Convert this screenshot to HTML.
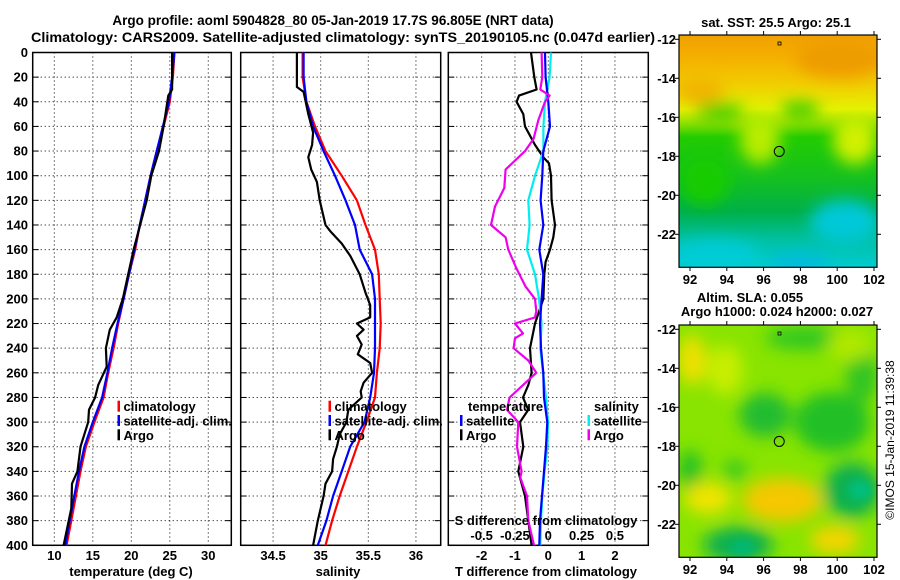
<!DOCTYPE html>
<html><head><meta charset="utf-8">
<style>
html,body{margin:0;padding:0;background:#fff;}
svg{display:block;font-family:"Liberation Sans",sans-serif;font-weight:bold;}
</style></head>
<body>
<svg id="chart" width="900" height="580" viewBox="0 0 900 580" xmlns="http://www.w3.org/2000/svg">
<defs>
  <clipPath id="clipTop"><rect x="679" y="35" width="198" height="232"/></clipPath>
  <clipPath id="clipBot"><rect x="679" y="325" width="198" height="232"/></clipPath>
  <filter id="blur8" x="-50%" y="-50%" width="200%" height="200%"><feGaussianBlur stdDeviation="8"/></filter>
  <filter id="blur5" x="-50%" y="-50%" width="200%" height="200%"><feGaussianBlur stdDeviation="5"/></filter>
  <linearGradient id="sstGrad" x1="0" y1="35" x2="0" y2="267" gradientUnits="userSpaceOnUse">
    <stop offset="0" stop-color="#f0a000"/>
    <stop offset="0.10" stop-color="#f5b000"/>
    <stop offset="0.22" stop-color="#f0d000"/>
    <stop offset="0.32" stop-color="#e4f200"/>
    <stop offset="0.38" stop-color="#90e000"/>
    <stop offset="0.44" stop-color="#22cc00"/>
    <stop offset="0.62" stop-color="#14c020"/>
    <stop offset="0.76" stop-color="#00b048"/>
    <stop offset="0.88" stop-color="#00c0a0"/>
    <stop offset="1" stop-color="#00ccd0"/>
  </linearGradient>
</defs>
<text x="333" y="25" font-size="13.5" text-anchor="middle">Argo profile: aoml 5904828_80 05-Jan-2019 17.7S 96.805E (NRT data)</text>
<text x="31" y="42" font-size="13.5" textLength="624" lengthAdjust="spacingAndGlyphs">Climatology: CARS2009. Satellite-adjusted climatology: synTS_20190105.nc (0.047d earlier)</text>
<g id="panels"></g>
<g id="maps"></g>
</svg>
<script>
// ---- depth grids ----
const depthClim = [0,20,40,60,80,100,120,140,160,180,200,220,240,260,280,300,320,340,360,380,400];
const depthTicks = [0,20,40,60,80,100,120,140,160,180,200,220,240,260,280,300,320,340,360,380,400];
// ---- temperature panel ----
const tempTicks = [10,15,20,25,30];
const tempClim = [25.6,25.4,25.0,24.2,23.3,22.5,21.8,21.1,20.5,19.7,19.0,18.3,17.7,17.0,16.4,15.2,14.1,13.4,12.8,12.2,11.6];
const tempSat = [25.6,25.3,24.9,24.1,23.3,22.5,21.8,21.1,20.4,19.7,19.0,18.2,17.5,16.9,16.2,15.0,13.9,13.2,12.6,12.0,11.45];
const argoTempDepth = [0,30,35,60,80,100,120,160,200,215,225,240,255,270,280,290,300,320,340,350,370,400];
const argoTemp = [25.3,25.3,24.8,24.2,23.6,22.6,22.0,20.3,18.9,18.1,17.2,16.7,16.8,15.7,15.3,14.5,14.4,13.4,13.0,12.3,12.2,11.2];
// ---- salinity panel ----
const salTicks = [34.5,35,35.5,36];
const salClim = [34.81,34.81,34.85,34.94,35.05,35.22,35.38,35.47,35.57,35.61,35.62,35.63,35.62,35.59,35.57,35.48,35.38,35.29,35.2,35.12,35.05];
const salSat = [34.82,34.82,34.85,34.92,35.03,35.15,35.26,35.36,35.41,35.54,35.57,35.57,35.57,35.56,35.52,35.46,35.31,35.22,35.13,35.06,34.97];
const argoSalDepth = [0,28,32,50,65,75,85,95,105,120,140,145,155,165,180,195,205,215,220,225,230,237,245,252,260,268,275,280,290,300,310,320,330,340,350,360,380,400];
const argoSal = [34.75,34.75,34.82,34.87,34.92,34.91,34.87,34.9,34.96,34.99,35.05,35.10,35.22,35.31,35.41,35.47,35.52,35.52,35.38,35.45,35.38,35.43,35.39,35.52,35.54,35.45,35.42,35.43,35.29,35.27,35.2,35.17,35.13,35.12,35.05,35.03,34.97,34.92];
// ---- difference panel ----
const tDiffTicks = [-2,-1,0,1,2];
const sDiffTicks = [-0.5,-0.25,0,0.25,0.5];
const sDiffTickLabels = ["-0.5","-0.25","0","0.25","0.5"];
const tDiffSat = [-0.1,-0.08,0,0.05,-0.15,-0.18,-0.23,-0.15,-0.27,-0.15,-0.2,-0.25,-0.22,-0.15,-0.13,-0.03,-0.07,-0.13,-0.19,-0.25,-0.27];
const sDiffSat = [0.02,0.01,-0.025,-0.037,-0.037,-0.1,-0.15,-0.14,-0.16,-0.1,-0.07,-0.05,-0.06,-0.04,-0.017,-0.002,-0.007,-0.028,-0.045,-0.055,-0.06];
const argoTDiffDepth = [0,20,30,35,40,50,60,75,85,90,100,120,140,150,160,170,180,200,220,240,260,270,280,290,300,320,340,360,380,400];
const argoTDiff = [-0.52,-0.42,-0.35,-0.88,-0.95,-0.75,-0.7,-0.4,-0.15,0.02,0.08,0.1,0.2,0.15,0.05,-0.08,-0.12,-0.15,-0.4,-0.55,-0.5,-0.6,-0.76,-0.6,-0.85,-0.75,-0.9,-0.7,-0.6,-0.5];
const argoSDiffDepth = [0,20,30,35,40,55,70,80,95,110,125,140,150,160,175,190,200,210,215,220,228,232,240,250,260,270,280,290,300,320,340,345,360,380,400];
const argoSDiff = [-0.05,-0.045,-0.06,0.01,-0.025,-0.075,-0.11,-0.175,-0.32,-0.33,-0.4,-0.43,-0.32,-0.3,-0.24,-0.17,-0.1,-0.09,-0.1,-0.25,-0.19,-0.25,-0.26,-0.15,-0.09,-0.19,-0.29,-0.31,-0.225,-0.235,-0.2,-0.21,-0.16,-0.15,-0.107];
// ---- maps ----
const lonTicks = [92,94,96,98,100,102];
const latTicks = [-12,-14,-16,-18,-20,-22];
const argoLon = 96.85, argoLat = -17.75;

const NS = "http://www.w3.org/2000/svg";
const panels = document.getElementById('panels');
const mapsG = document.getElementById('maps');
function mk(tag, attrs, parent){ const e=document.createElementNS(NS,tag); for(const k in attrs) e.setAttribute(k,attrs[k]); parent.appendChild(e); return e; }

const yTop=52.5, yBot=545.3;
function yDepth(d){ return yTop + d*(yBot-yTop)/400; }

function makePanel(name, x0, x1, vmin, vmax){
  const g = mk('g',{},panels);
  
  
  const sx = v => x0 + (v-vmin)*(x1-x0)/(vmax-vmin);
  return {g, sx, x0, x1};
}
function frame(P, ticks){
  depthTicks.forEach(d=>{
    const y=yDepth(d);
    if(d>0 && d<400){
      const l=mk('line',{x1:P.x0,x2:P.x1,y1:y,y2:y,stroke:'#000','stroke-width':1,'stroke-dasharray':'1,3'},P.g);
      
      
    }
    mk('line',{x1:P.x0,x2:P.x0+6,y1:y,y2:y,stroke:'#000','stroke-width':1},P.g);
    mk('line',{x1:P.x1-6,x2:P.x1,y1:y,y2:y,stroke:'#000','stroke-width':1},P.g);
  });
  ticks.forEach(v=>{
    const x=P.sx(v);
    const l=mk('line',{x1:x,x2:x,y1:yTop,y2:yBot,stroke:'#000','stroke-width':1,'stroke-dasharray':'1,3'},P.g);
    
    
  });
  const r=mk('rect',{x:P.x0,y:yTop,width:P.x1-P.x0,height:yBot-yTop,fill:'none',stroke:'#000','stroke-width':1.5},P.g);
  
  
}
function tickLabels(P, ticks, labels, y, name){
  ticks.forEach((v,i)=>{
    const t=mk('text',{x:P.sx(v),y:y,'font-size':13,'text-anchor':'middle'},P.g);
    t.textContent = labels ? labels[i] : String(v);
    
    
  });
}
function series(P, depths, vals, color, name, sx){
  const f = sx || P.sx;
  const pts = vals.map((v,i)=> f(v).toFixed(1)+','+yDepth(depths[i]).toFixed(1)).join(' ');
  const pl = mk('polyline',{points:pts,fill:'none',stroke:color,'stroke-width':2.2,'stroke-linejoin':'round'},P.g);
  
  
}
function legendEntry(P, x, y, color, label, name){
  const g=mk('g',{},P.g);
  
  
  mk('rect',{x:x,y:y-6,width:2.5,height:11,fill:color},g);
  const t=mk('text',{x:x+6,y:y+4.5,'font-size':13},g);
  t.textContent=label;
}
function label(parent, x, y, txt, name, anchor, size){
  const t=mk('text',{x:x,y:y,'font-size':size||13,'text-anchor':anchor||'middle'},parent);
  t.textContent=txt;
  
  
  return t;
}

depthTicks.forEach(d=>{
  label(panels, 28, yDepth(d)+4.5, String(d), 'depth-tick-label', 'end');
});

// Panel 1
const P1 = makePanel('temperature-panel', 32.7, 231.3, 7.19, 32.99);
frame(P1, tempTicks);
series(P1, depthClim, tempClim, '#ff0000', 'temperature-climatology-line');
series(P1, depthClim, tempSat, '#0000ff', 'temperature-satellite-line');
series(P1, argoTempDepth, argoTemp, '#000000', 'temperature-argo-line');
tickLabels(P1, tempTicks, null, 560, 'temperature-tick-label');
label(P1.g, 131, 576, 'temperature (deg C)', 'temperature-axis-title');
legendEntry(P1, 117.5, 406.7, '#ff0000', 'climatology', 'legend-climatology');
legendEntry(P1, 117.5, 421, '#0000ff', 'satellite-adj. clim.', 'legend-satellite-adj');
legendEntry(P1, 117.5, 435.3, '#000000', 'Argo', 'legend-argo');

// Panel 2
const P2 = makePanel('salinity-panel', 240.7, 440.7, 34.16, 36.26);
frame(P2, salTicks);
series(P2, depthClim, salClim, '#ff0000', 'salinity-climatology-line');
series(P2, depthClim, salSat, '#0000ff', 'salinity-satellite-line');
series(P2, argoSalDepth, argoSal, '#000000', 'salinity-argo-line');
tickLabels(P2, salTicks, null, 560, 'salinity-tick-label');
label(P2.g, 338, 576, 'salinity', 'salinity-axis-title');
legendEntry(P2, 328.5, 406.7, '#ff0000', 'climatology', 'legend-climatology');
legendEntry(P2, 328.5, 421, '#0000ff', 'satellite-adj. clim.', 'legend-satellite-adj');
legendEntry(P2, 328.5, 435.3, '#000000', 'Argo', 'legend-argo');

// Panel 3
const P3 = makePanel('difference-panel', 448.3, 648.3, -3, 3);
const sxS = v => P3.sx(v*4);
frame(P3, tDiffTicks);
series(P3, argoTDiffDepth, argoTDiff, '#000000', 'temperature-argo-diff-line');
series(P3, depthClim, sDiffSat, '#00eeee', 'salinity-satellite-diff-line', sxS);
series(P3, depthClim, tDiffSat, '#0000ff', 'temperature-satellite-diff-line');
series(P3, argoSDiffDepth, argoSDiff, '#ee00ee', 'salinity-argo-diff-line', sxS);
tickLabels(P3, tDiffTicks, null, 560, 'tdiff-tick-label');
label(P3.g, 546, 576, 'T difference from climatology', 'tdiff-axis-title');
sDiffTicks.forEach((v,i)=>{
  label(P3.g, sxS(v), 540, sDiffTickLabels[i], 'sdiff-tick-label');
});
label(P3.g, 546, 525, 'S difference from climatology', 'sdiff-axis-title');
label(P3.g, 468, 411, 'temperature', 'legend-temperature-heading', 'start');
label(P3.g, 594, 411, 'salinity', 'legend-salinity-heading', 'start');
legendEntry(P3, 460, 421, '#0000ff', 'satellite', 'legend-temp-satellite');
legendEntry(P3, 460, 435.3, '#000000', 'Argo', 'legend-temp-argo');
legendEntry(P3, 587.5, 421, '#00eeee', 'satellite', 'legend-sal-satellite');
legendEntry(P3, 587.5, 435.3, '#ee00ee', 'Argo', 'legend-sal-argo');

// ---- Maps ----
const mx = lon => 690 + (lon-92)*18.4;
function makeMap(name, y0){
  const g=mk('g',{},mapsG);
  
  
  const my = lat => y0 + 4.3 + (-12-lat)*19.5;
  return {g, my, y0};
}
function mapFrame(M){
  mk('rect',{x:679,y:M.y0,width:198,height:232.3,fill:'none',stroke:'#000','stroke-width':1.2},M.g);
  latTicks.forEach(l=>{
    const y=M.my(l);
    mk('line',{x1:675,x2:679,y1:y,y2:y,stroke:'#000'},M.g);
    mk('line',{x1:877,x2:881,y1:y,y2:y,stroke:'#000'},M.g);
    label(M.g, 676, y+4.5, String(l), 'latitude-tick-label', 'end');
  });
  lonTicks.forEach(l=>{
    const x=mx(l);
    mk('line',{x1:x,x2:x,y1:M.y0-4,y2:M.y0,stroke:'#000'},M.g);
    mk('line',{x1:x,x2:x,y1:M.y0+232,y2:M.y0+236,stroke:'#000'},M.g);
    label(M.g, x, M.y0+249, String(l), 'longitude-tick-label');
  });
  const c=mk('circle',{cx:mx(argoLon),cy:M.my(argoLat),r:5,fill:'none',stroke:'#000','stroke-width':1},M.g);
  
  
  mk('rect',{x:778,y:M.y0+7,width:3,height:3,fill:'none',stroke:'#000','stroke-width':0.8},M.g);
}
// SST map
const M1 = makeMap('sst-map', 35);
const g1 = mk('g',{'clip-path':'url(#clipTop)'},M1.g);
mk('rect',{x:679,y:35,width:198,height:232,fill:'url(#sstGrad)'},g1);
const b1 = mk('g',{filter:'url(#blur8)'},g1);
mk('ellipse',{cx:840,cy:58,rx:45,ry:20,fill:'#ee9c00'},b1);
mk('ellipse',{cx:700,cy:90,rx:25,ry:14,fill:'#f2b400'},b1);
mk('ellipse',{cx:760,cy:138,rx:20,ry:26,fill:'#b8ec00'},b1);
mk('ellipse',{cx:855,cy:140,rx:22,ry:24,fill:'#d0f000'},b1);
mk('ellipse',{cx:720,cy:112,rx:25,ry:9,fill:'#40cc00'},b1);
mk('ellipse',{cx:800,cy:110,rx:20,ry:8,fill:'#30c800'},b1);
mk('ellipse',{cx:845,cy:222,rx:35,ry:22,fill:'#00c8d8'},b1);
mk('ellipse',{cx:715,cy:255,rx:45,ry:15,fill:'#00ccd8'},b1);
mk('ellipse',{cx:800,cy:262,rx:30,ry:8,fill:'#00b8e0'},b1);
mk('ellipse',{cx:705,cy:180,rx:25,ry:25,fill:'#18cc00'},b1);
mapFrame(M1);
label(M1.g, 776, 27, 'sat. SST: 25.5 Argo: 25.1', 'sst-map-title');

// SLA map
const M2 = makeMap('sla-map', 325);
const g2 = mk('g',{'clip-path':'url(#clipBot)'},M2.g);
mk('rect',{x:679,y:325,width:198,height:232,fill:'#88e400'},g2);
const b2 = mk('g',{filter:'url(#blur8)'},g2);
mk('ellipse',{cx:805,cy:338,rx:40,ry:12,fill:'#30c820'},b2);
mk('ellipse',{cx:765,cy:415,rx:26,ry:22,fill:'#20bc30'},b2);
mk('ellipse',{cx:832,cy:422,rx:38,ry:30,fill:'#22c028'},b2);
mk('ellipse',{cx:862,cy:375,rx:16,ry:28,fill:'#30c420'},b2);
mk('ellipse',{cx:690,cy:470,rx:12,ry:20,fill:'#28c028'},b2);
mk('ellipse',{cx:735,cy:470,rx:12,ry:10,fill:'#38c820'},b2);
mk('ellipse',{cx:852,cy:490,rx:28,ry:28,fill:'#10b050'},b2);
mk('ellipse',{cx:738,cy:545,rx:35,ry:18,fill:'#10b050'},b2);
mk('ellipse',{cx:692,cy:360,rx:14,ry:25,fill:'#f0e000'},b2);
mk('ellipse',{cx:725,cy:370,rx:18,ry:25,fill:'#c8ee00'},b2);
mk('ellipse',{cx:850,cy:345,rx:22,ry:16,fill:'#b0e800'},b2);
mk('ellipse',{cx:782,cy:500,rx:40,ry:22,fill:'#f5c800'},b2);
mk('ellipse',{cx:708,cy:498,rx:24,ry:16,fill:'#f0e400'},b2);
mk('ellipse',{cx:835,cy:540,rx:25,ry:14,fill:'#f5d400'},b2);
const b3 = mk('g',{filter:'url(#blur5)'},g2);
mk('ellipse',{cx:860,cy:490,rx:12,ry:10,fill:'#00c080'},b3);
mk('ellipse',{cx:742,cy:548,rx:12,ry:8,fill:'#00b878'},b3);
mapFrame(M2);
label(M2.g, 750, 302, 'Altim. SLA: 0.055', 'sla-map-title');
label(M2.g, 777, 316, 'Argo h1000: 0.024 h2000: 0.027', 'sla-map-subtitle');

const cr = label(mapsG, 0, 0, '©IMOS 15-Jan-2019 11:39:38', 'copyright-timestamp', 'middle', 12);
cr.setAttribute('font-weight','normal');
cr.setAttribute('transform','translate(894,440) rotate(-90)');
</script>
</body></html>
